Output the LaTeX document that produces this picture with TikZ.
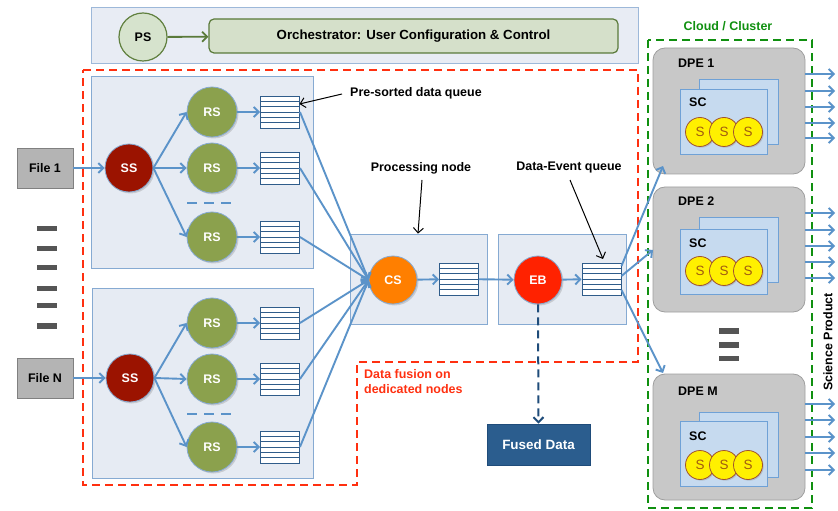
\documentclass[tikz,border=0pt]{standalone}
\usepackage{fontspec}
\setmainfont{Liberation Sans}
\usetikzlibrary{arrows.meta,shadows,calc}
\definecolor{boxfill}{HTML}{E6EBF3}
\definecolor{boxline}{HTML}{86AAD2}
\definecolor{topfill}{HTML}{E8ECF4}
\definecolor{topline}{HTML}{9DB8D9}
\definecolor{flow}{HTML}{5B93C9}
\definecolor{qline}{HTML}{2F5C8A}
\definecolor{ssred}{HTML}{9B1300}
\definecolor{rsgreen}{HTML}{8BA14D}
\definecolor{csorange}{HTML}{FF7F00}
\definecolor{ebred}{HTML}{FF2200}
\definecolor{psfill}{HTML}{D6E3CD}
\definecolor{psline}{HTML}{60803F}
\definecolor{orchfill}{HTML}{D5E0CA}
\definecolor{orchline}{HTML}{5A7A3A}
\definecolor{filefill}{HTML}{B4B4B4}
\definecolor{fileline}{HTML}{808080}
\definecolor{fusedfill}{HTML}{2B5D8E}
\definecolor{fusedline}{HTML}{1F4C7A}
\definecolor{reddash}{HTML}{FF3010}
\definecolor{greendash}{HTML}{109010}
\definecolor{dpefill}{HTML}{C8C8C8}
\definecolor{dpeline}{HTML}{9E9E9E}
\definecolor{scfill}{HTML}{C6DAEF}
\definecolor{scline}{HTML}{6FA1D6}
\definecolor{syellow}{HTML}{FFF000}
\definecolor{sline}{HTML}{A0522D}
\definecolor{stext}{HTML}{A05A10}
\definecolor{bar}{HTML}{555555}
\tikzset{
  container/.style={draw=boxline, fill=boxfill, line width=0.8bp, inner sep=0},
  proc/.style={circle, draw=boxline, line width=0.8bp, text=white, inner sep=0,
    minimum size=#1, drop shadow={opacity=0.3, shadow xshift=1.5bp, shadow yshift=-1.5bp}},
  proc/.default=48bp,
  queue/.style={draw=qline, fill=white, line width=0.9bp, inner sep=0,
    minimum width=39bp, minimum height=32bp,
    path picture={\foreach \k in {1,...,5}{
      \draw[qline, line width=0.9bp]
        ([yshift={-\k*5.333bp}]path picture bounding box.north west) --
        ([yshift={-\k*5.333bp}]path picture bounding box.north east);}}},
  flowarrow/.style={draw=flow, line width=1.9bp, -{Straight Barb[length=5bp,width=10bp]}},
  note/.style={draw=black, line width=1bp, -{Straight Barb[length=5bp,width=10bp]}},
  filebox/.style={draw=fileline, fill=filefill, line width=0.8bp, minimum width=56bp, minimum height=40bp, inner sep=0},
  dpe/.style={draw=dpeline, fill=dpefill, line width=0.8bp, rounded corners=12bp,
    minimum width=152bp, minimum height=126bp, inner sep=0},
  scbox/.style={draw=scline, fill=scfill, line width=0.8bp, minimum width=#1, minimum height=65bp, inner sep=0},
  scircle/.style={circle, draw=sline, fill=syellow, line width=0.8bp, minimum size=29bp, inner sep=0,
    text=stext, font=\fontsize{13.5}{15}\selectfont,
    drop shadow={opacity=0.3, shadow xshift=1.2bp, shadow yshift=-1.2bp}},
  barshape/.style={fill=bar, inner sep=0, minimum width=20bp, minimum height=5.5bp},
  lbl/.style={inner sep=0},
}
\begin{document}
\begin{tikzpicture}[x=1bp,y=-1bp, font=\fontsize{12.5}{15}\selectfont\bfseries]
\useasboundingbox (0,0) rectangle (838,511);

% ---- top orchestrator band
\node[container, draw=topline, fill=topfill, minimum width=547bp, minimum height=56bp] (top) at (364.5,35) {};
\node[circle, draw=psline, fill=psfill, line width=1.2bp, minimum size=48bp, inner sep=0] (ps) at (143,37) {PS};
\node[draw=orchline, fill=orchfill, line width=1.2bp, rounded corners=5bp,
      minimum width=409bp, minimum height=34bp, inner sep=0, font=\fontsize{13.3}{15}\selectfont\bfseries] (orch) at (413.5,36)
      {Orchestrator: User Configuration \& Control};
\draw[draw=orchline, line width=1.8bp, -{Straight Barb[length=5bp,width=10bp]}] (ps) -- (orch);

% ---- containers
\node[container, minimum width=222bp, minimum height=192bp] (b1) at (202,172) {};
\node[container, minimum width=221bp, minimum height=190bp] (b2) at (202.5,383) {};
\node[container, minimum width=137bp, minimum height=90bp] (pbox) at (418.5,279) {};
\node[container, minimum width=128bp, minimum height=90bp] (ebox) at (562,279) {};

% red dashed region
\draw[reddash, line width=2.2bp, dash pattern=on 8bp off 5bp]
  (83,70) -- (638,70) -- (638,362) -- (357,362) -- (357,485) -- (83,485) -- cycle;
% green dashed region
\draw[greendash, line width=2.4bp, dash pattern=on 8bp off 5bp] (648,40) rectangle (812,508);

% ---- files
\node[filebox] (f1) at (45,168) {File 1};
\node[filebox] (fn) at (45,378) {File N};
\foreach \yy [count=\i] in {228.5,248.5,267.5,288.5,305.5,326}
  \node[barshape] (lbar\i) at (47,\yy) {};

% ---- splitters and readers
\node[proc, fill=ssred] (ss1) at (129,168) {SS};
\node[proc, fill=ssred] (ss2) at (130,378) {SS};
\foreach \n/\yy in {1/112,2/168,3/237,4/323,5/379,6/447}{
  \node[proc=50bp, fill=rsgreen] (rs\n) at (212,\yy) {RS};
  \node[queue] (q\n) at (280,\yy) {};
}
\draw[flow, line width=2.2bp, dash pattern=on 10bp off 7bp] (187,203) -- (233,203);
\draw[flow, line width=2.2bp, dash pattern=on 10bp off 7bp] (187,414) -- (233,414);

\draw[flowarrow] (f1) -- (ss1);
\draw[flowarrow] (fn) -- (ss2);
\foreach \n in {1,2,3}{\draw[flowarrow] (ss1.east) -- (rs\n.west);}
\foreach \n in {4,5,6}{\draw[flowarrow] (ss2.east) -- (rs\n.west);}
\foreach \n in {1,...,6}{\draw[flowarrow] (rs\n) -- (q\n);}

% ---- central processing
\node[proc, fill=csorange] (cs) at (393,280) {CS};
\node[queue] (pq) at (459,279) {};
\node[proc, fill=ebred] (eb) at (538,280) {EB};
\node[queue] (dq) at (601.5,279) {};

\foreach \n in {1,...,6}{\draw[flowarrow] (q\n.east) -- (cs.west);}
\draw[flowarrow] (cs) -- (pq);
\draw[flowarrow] (pq) -- (eb);
\draw[flowarrow] (eb) -- (dq);

\node[draw=fusedline, fill=fusedfill, text=white, line width=0.8bp, minimum width=103bp, minimum height=41bp,
      inner sep=0, font=\fontsize{13.5}{15}\selectfont\bfseries] (fused) at (538.5,444.5) {Fused Data};
\draw[draw=fusedline, line width=2bp, dash pattern=on 8bp off 5bp, -{Straight Barb[length=5bp,width=10bp]}] (eb.south) -- (fused.north);

% ---- annotations
\node[lbl, anchor=west] (tpre) at (350,93) {Pre-sorted data queue};
\coordinate (q1tip) at (299.5,104);
\draw[note] (tpre.west) ++(-8,1) -- (q1tip);
\node[lbl] (tproc) at (421,168) {Processing node};
\draw[note] (422,180) -- (pbox.north -| 418,0);
\node[lbl] (tdeq) at (569,168) {Data-Event queue};
\coordinate (dqtip) at (603,259);
\draw[note] (570,180) -- (dqtip);
\node[lbl, anchor=north west, align=left, text=reddash] (tfus) at (364,369) {Data fusion on\\dedicated nodes};
\node[lbl, text=greendash] (tcloud) at (728,26) {Cloud / Cluster};
\node[lbl, rotate=90] (tsci) at (828,342) {Science Product};

% ---- DPE nodes
\node[dpe] (dpe1) at (729,111) {};
\node[dpe, minimum height=125bp] (dpe2) at (729,249.5) {};
\node[dpe] (dpem) at (729,437) {};

\foreach \d/\lab/\ly/\by/\fy/\sy/\scy in {1/DPE 1/63/111.5/121.5/132/102, 2/DPE 2/201/249.5/261.5/271/243, m/DPE M/391/445/454/465/436}{
  \node[lbl, anchor=west] (l\d) at (678,\ly) {\lab};
  \node[scbox=79bp] (scb\d) at (738.5,\by) {};
  \node[scbox=87bp] (scf\d) at (723.5,\fy) {};
  \node[lbl, anchor=west] (sc\d) at (689,\scy) {SC};
  \node[scircle] (s\d a) at (700,\sy) {S};
  \node[scircle] (s\d b) at (724,\sy) {S};
  \node[scircle] (s\d c) at (748,\sy) {S};
}
\foreach \yy [count=\i] in {331,345,358.5}
  \node[barshape] (rbar\i) at (729,\yy) {};

\foreach \yy [count=\i] in {74,91,107,123,138}{
  \coordinate (o1\i) at (835,\yy);
  \draw[flowarrow] (dpe1.east |- o1\i) -- (o1\i);}
\foreach \yy [count=\i] in {213,230,246,262,278}{
  \coordinate (o2\i) at (835,\yy);
  \draw[flowarrow] (dpe2.east |- o2\i) -- (o2\i);}
\foreach \yy [count=\i] in {404,420,437,453,470}{
  \coordinate (o3\i) at (835,\yy);
  \draw[flowarrow] (dpem.east |- o3\i) -- (o3\i);}

\coordinate (t1) at (663,166);
\coordinate (t2) at (653,250);
\coordinate (t3) at (663,373);
\draw[flowarrow] ($(dq.east)+(0,-13)$) -- (t1);
\draw[flowarrow] ($(dq.east)+(0,-3)$) -- (t2);
\draw[flowarrow] ($(dq.east)+(0,11)$) -- (t3);
\end{tikzpicture}
\end{document}
